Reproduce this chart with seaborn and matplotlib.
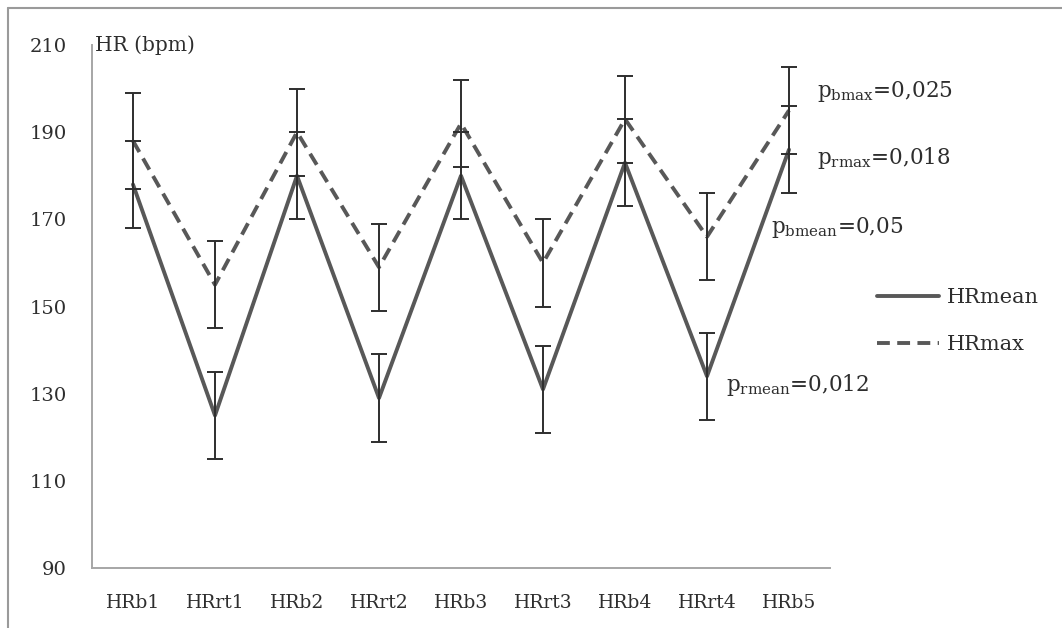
import numpy as np
import pandas as pd
import seaborn as sns
import matplotlib.pyplot as plt
from matplotlib.lines import Line2D

# data
phases = ["HRb1", "HRrt1", "HRb2", "HRrt2", "HRb3", "HRrt3", "HRb4", "HRrt4", "HRb5"]
hr_mean = [178, 125, 180, 129, 180, 131, 183, 134, 186]
hr_mean_err = [10, 10, 10, 10, 10, 10, 10, 10, 10]
hr_max = [188, 155, 190, 159, 192, 160, 193, 166, 195]
hr_max_err = [11, 10, 10, 10, 10, 10, 10, 10, 10]
y_ticks = [90, 110, 130, 150, 170, 190, 210]

notes = [
    (r"p$_{\mathrm{bmax}}$=0,025", 817, 92),
    (r"p$_{\mathrm{rmax}}$=0,018", 817, 158),
    (r"p$_{\mathrm{bmean}}$=0,05", 771, 227),
    (r"p$_{\mathrm{rmean}}$=0,012", 726, 385),
]

sns.set_style("white")
plt.rcParams["font.family"] = ["DejaVu Serif"]
plt.rcParams["mathtext.fontset"] = "custom"
plt.rcParams["mathtext.rm"] = "DejaVu Serif"

line_col = "#585858"
text_col = "#2e2e2e"
axis_col = "#a6a6a6"

pos = np.arange(len(phases))
df = pd.DataFrame({
    "pos": np.concatenate([pos, pos]),
    "HR": hr_mean + hr_max,
    "series": ["HRmean"] * len(phases) + ["HRmax"] * len(phases),
})

W, H = 1062, 628
fig = plt.figure(figsize=(W / 100, H / 100), dpi=100)
ax = fig.add_axes([92 / W, 1 - 568 / H, (830 - 92) / W, (568 - 45) / H])

sns.lineplot(data=df, x="pos", y="HR", style="series",
             dashes={"HRmean": "", "HRmax": (3.3, 1.9)},
             color=line_col, lw=2.8, legend=False, ax=ax)

ax.errorbar(pos, hr_max, yerr=hr_max_err, fmt="none", ecolor="#2e2e2e",
            elinewidth=1.4, capsize=6, capthick=1.4)
ax.errorbar(pos, hr_mean, yerr=hr_mean_err, fmt="none", ecolor="#2e2e2e",
            elinewidth=1.4, capsize=6, capthick=1.4)

ax.set_xlim(-0.5, len(phases) - 0.5)
ax.set_ylim(90, 210)
ax.set_yticks(y_ticks)
ax.set_yticklabels([str(t) for t in y_ticks], fontsize=14, color=text_col)
ax.set_xticks(pos)
ax.set_xticklabels(phases, fontsize=13.5, color=text_col)
ax.set_xticks(np.arange(-0.5, len(phases)), minor=True)
ax.tick_params(axis="x", which="major", length=0, pad=19)
ax.tick_params(axis="x", which="minor", length=5, width=1.2, color=axis_col, direction="out")
ax.tick_params(axis="y", length=5, width=1.2, color=axis_col, direction="out", pad=13)
ax.set_xlabel("")
ax.set_ylabel("")

for side in ["top", "right"]:
    ax.spines[side].set_visible(False)
for side in ["left", "bottom"]:
    ax.spines[side].set_color(axis_col)
    ax.spines[side].set_linewidth(1.4)

ax.text(0.004, 1.0, "HR (bpm)", transform=ax.transAxes, fontsize=14.5,
        color=text_col, ha="left", va="center")

for label, px, py in notes:
    fig.text(px / W, 1 - py / H, label, fontsize=15.5, color=text_col,
             ha="left", va="center")

handles = [Line2D([], [], color=line_col, lw=2.8),
           Line2D([], [], color=line_col, lw=2.8, dashes=(3.3, 1.9))]
fig.legend(handles, ["HRmean", "HRmax"], loc="center left",
           bbox_to_anchor=(858 / W, 1 - 321 / H), frameon=False,
           fontsize=15, handlelength=3.0, labelspacing=1.35,
           handletextpad=0.35, labelcolor=text_col)

# outer frame of the original figure
fig.add_artist(Line2D([8 / W, 1], [1 - 8 / H, 1 - 8 / H], color="#9a9a9a", lw=1.5))
fig.add_artist(Line2D([8 / W, 8 / W], [0, 1 - 8 / H], color="#9a9a9a", lw=1.5))

fig.savefig("out.png", dpi=100)
